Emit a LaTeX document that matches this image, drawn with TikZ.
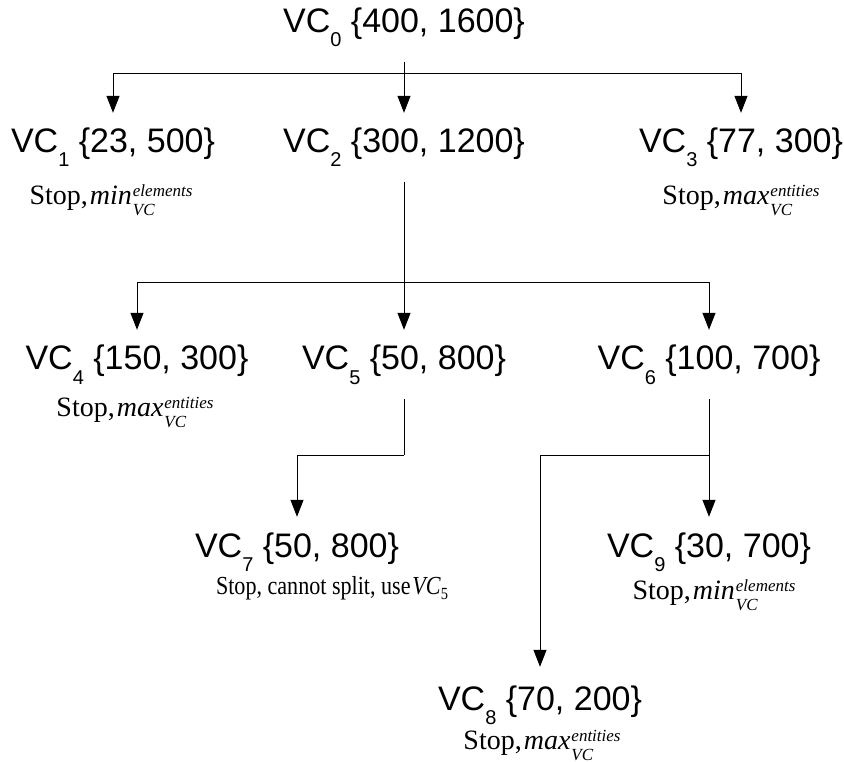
\documentclass[tikz,border=0pt]{standalone}
\usepackage{fontspec}
\setmainfont{Liberation Serif}
\setsansfont{Liberation Sans}
\usetikzlibrary{arrows.meta}
\newcommand\bigf{\sffamily\fontsize{34}{40}\selectfont}
\newcommand\scr{\fontsize{17}{17}\selectfont}
\newcommand\vclab[2]{VC\raisebox{-14pt}{\fontsize{20}{20}\selectfont #1}\ #2}
\newcommand\stoplab[2]{Stop,\kern2pt\textit{#1}\kern1pt\rlap{\raisebox{-11pt}{\scr\itshape VC}}\raisebox{8pt}{\scr\itshape #2}}
\tikzset{
  vc/.style={anchor=base, inner xsep=0pt, inner ysep=15pt, text height=25pt, text depth=14pt, font=\bigf},
  stoptxt/.style={anchor=base, inner sep=0pt, font=\fontsize{28}{30}\selectfont},
  conn/.style={draw=black, line width=1pt},
  arr/.style={conn, -{Triangle[width=13pt,length=17pt]}}
}
\begin{document}
\begin{tikzpicture}[x=1pt,y=-1pt]
\useasboundingbox (0,0) rectangle (844,762);
% level 0
\node[vc] (v0) at (404,33) {\vclab{0}{\{400, 1600\}}};
% level 1
\node[vc] (v1) at (113,153) {\vclab{1}{\{23, 500\}}};
\node[vc] (v2) at (404,153) {\vclab{2}{\{300, 1200\}}};
\node[vc] (v3) at (741,153) {\vclab{3}{\{77, 300\}}};
\node[stoptxt] (s1) at (111,205) {\stoplab{min}{elements}};
\node[stoptxt] (s3) at (741,205) {\stoplab{max}{entities}};
% level 2
\node[vc] (v4) at (137,370) {\vclab{4}{\{150, 300\}}};
\node[vc] (v5) at (404,370) {\vclab{5}{\{50, 800\}}};
\node[vc] (v6) at (709,370) {\vclab{6}{\{100, 700\}}};
\node[stoptxt] (s4) at (135,416) {\stoplab{max}{entities}};
% level 3
\node[vc] (v7) at (297,557) {\vclab{7}{\{50, 800\}}};
\node[vc] (v9) at (709,557) {\vclab{9}{\{30, 700\}}};
\node[stoptxt, font=\fontsize{26}{28}\selectfont] (s7) at (332,594) {\scalebox{0.85}[1]{Stop, cannot split, use\kern2pt\textit{VC}\raisebox{-5pt}{\fontsize{17}{17}\selectfont 5}}};
\node[stoptxt] (s9) at (714,599) {\stoplab{min}{elements}};
% level 4
\node[vc] (v8) at (540,710) {\vclab{8}{\{70, 200\}}};
\node[stoptxt] (s8) at (542,749) {\stoplab{max}{entities}};
% junctions
\coordinate (b0) at (404,74);
\coordinate (b2) at (404,283);
\coordinate (b5) at (404,455);
\coordinate (b6) at (709,455);
% connectors
\draw[arr] (v0.south) -- (v2.north);
\draw[arr] (b0) -| (v1.north);
\draw[arr] (b0) -| (v3.north);
\draw[arr] (v2.south) -- (v5.north);
\draw[arr] (b2) -| (v4.north);
\draw[arr] (b2) -| (v6.north);
\draw[conn] (v5.south) -- (b5);
\draw[arr] (b5) -| (v7.north);
\draw[arr] (v6.south) -- (v9.north);
\draw[arr] (b6) -| ([yshift=3pt]v8.north);
\end{tikzpicture}
\end{document}
